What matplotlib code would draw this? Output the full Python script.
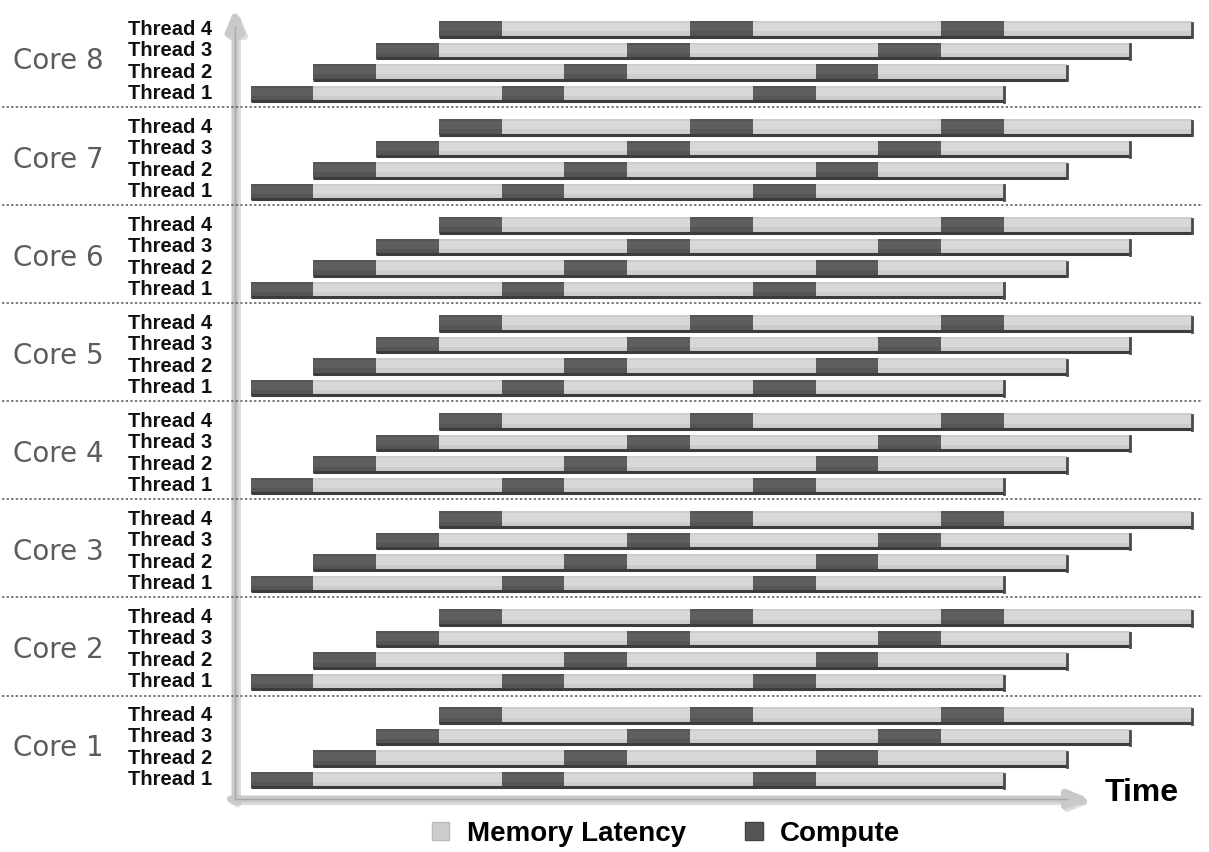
import numpy as np
import matplotlib
matplotlib.use("Agg")
import matplotlib.pyplot as plt
from matplotlib.patches import Patch

# Data: every thread runs the same compute / memory-latency cycle,
# each thread shifted by one compute slot
cores = ["Core 1", "Core 2", "Core 3", "Core 4", "Core 5", "Core 6", "Core 7", "Core 8"]
threads = ["Thread 1", "Thread 2", "Thread 3", "Thread 4"]
thread_start = [0, 1, 2, 3]
phases = ["Compute", "Memory Latency", "Compute", "Memory Latency", "Compute", "Memory Latency"]
phase_len = [1, 3, 1, 3, 1, 3]

colors = {"Compute": "#555555", "Memory Latency": "#cdcdcd"}
highlight = {"Compute": "#5e5e5e", "Memory Latency": "#d8d8d8"}

# layout (row units)
core_gap = 4.56
bar_h = 0.76

fig = plt.figure(figsize=(12.09, 8.52), dpi=100)
ax = fig.add_axes([0, 0, 1, 1])
ax.set_xlim(-3.989, 15.263)
ax.set_ylim(-3.349, 36.279)
ax.axis("off")

for ci, core in enumerate(cores):
    base = ci * core_gap
    for ti, thread in enumerate(threads):
        y = base + ti
        left = thread_start[ti]
        for ph, ln in zip(phases, phase_len):
            ax.barh(y, ln, left=left, height=bar_h, color=colors[ph], zorder=3)
            ax.barh(y + bar_h * 0.12, ln, left=left, height=bar_h * 0.5,
                    color=highlight[ph], zorder=3)
            left += ln
        end = left
        # dark bottom edge and right end cap
        ax.plot([thread_start[ti], end], [y - bar_h / 2 + 0.04] * 2,
                color="#3c3c3c", lw=2.2, zorder=4, solid_capstyle="butt")
        ax.plot([end, end], [y - bar_h / 2, y + bar_h / 2 - 0.08],
                color="#4a4a4a", lw=2, zorder=4)
        ax.text(-0.613, y, thread, ha="right", va="center", fontsize=14.5,
                fontweight="bold", family=["Liberation Sans", "DejaVu Sans"],
                color="#111111")
    ax.text(-3.78, base + 1.5, core, ha="left", va="center", fontsize=20,
            color="#5c5c5c", family="DejaVu Sans")
    if ci > 0:
        ax.plot([-3.96, 15.17], [base - 0.63] * 2, color="#555555", lw=1.1,
                ls=(0, (1.5, 1.5)), zorder=2)

# axes arrows (light gray with soft shadow)
for dx, dy, col, a in [(0.04, -0.12, "#bbbbbb", 0.5), (0, 0, "#c9c9c9", 1.0)]:
    ax.annotate("", xy=(-0.247 + dx, 35.9 + dy), xytext=(-0.247 + dx, -1.0 + dy),
                arrowprops=dict(arrowstyle="-|>,head_length=1.2,head_width=0.5",
                                color=col, lw=5, alpha=a, shrinkA=0, shrinkB=0),
                zorder=1)
    ax.annotate("", xy=(13.37 + dx, -0.884 + dy), xytext=(-0.32 + dx, -0.884 + dy),
                arrowprops=dict(arrowstyle="-|>,head_length=1.2,head_width=0.5",
                                color=col, lw=5, alpha=a, shrinkA=0, shrinkB=0),
                zorder=1)
ax.plot([-0.247, -0.247], [-0.884, 35.0], color="#a8a8a8", lw=1, zorder=1)
ax.plot([-0.247, 13.0], [-0.884, -0.884], color="#a8a8a8", lw=1, zorder=1)

ax.text(13.6, -0.605, "Time", ha="left", va="center", fontsize=23,
        fontweight="bold", family=["Liberation Sans", "DejaVu Sans"])

handles = [Patch(facecolor=colors["Memory Latency"], edgecolor="#bbbbbb", label="Memory Latency"),
           Patch(facecolor=colors["Compute"], edgecolor="#444444", label="Compute")]
fig.legend(handles=handles, loc="center", bbox_to_anchor=(0.551, 0.021), ncol=2,
           frameon=False, handlelength=0.62, handleheight=0.62, handletextpad=0.62,
           columnspacing=2.15,
           prop={"family": ["Liberation Sans", "DejaVu Sans"], "weight": "bold", "size": 20})

fig.savefig("out.png", dpi=100)
